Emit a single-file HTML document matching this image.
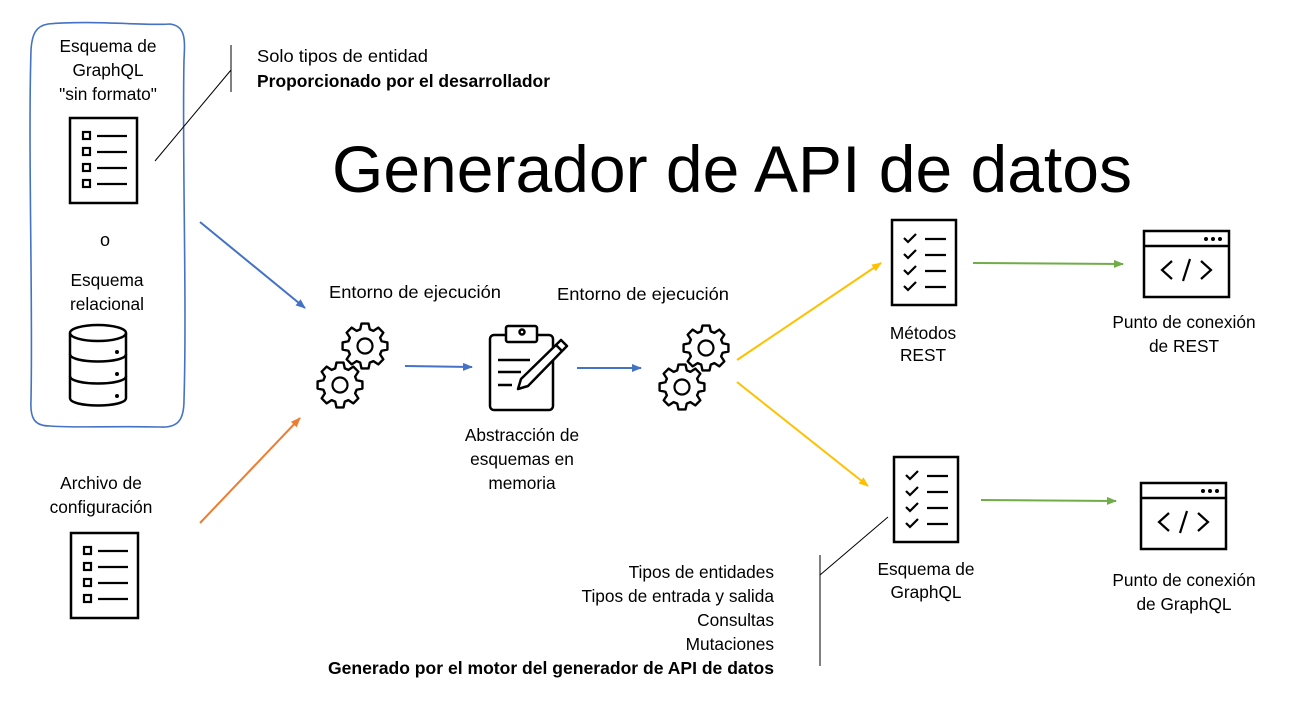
<!DOCTYPE html>
<html><head><meta charset="utf-8"><style>
html,body{margin:0;padding:0;background:#fff;}
svg{display:block;}
text{font-family:"Liberation Sans",sans-serif;font-size:17.3px;fill:#000;}
.b{font-weight:bold;}
</style></head><body>
<svg width="1291" height="717" viewBox="0 0 1291 717" xmlns="http://www.w3.org/2000/svg">
<defs>
<marker id="ab" markerWidth="10" markerHeight="8" refX="9" refY="4" orient="auto" markerUnits="userSpaceOnUse"><path d="M0,0 L10,4 L0,8z" fill="#4472c4"/></marker>
<marker id="ao" markerWidth="10" markerHeight="8" refX="9" refY="4" orient="auto" markerUnits="userSpaceOnUse"><path d="M0,0 L10,4 L0,8z" fill="#ed7d31"/></marker>
<marker id="ay" markerWidth="10" markerHeight="8" refX="9" refY="4" orient="auto" markerUnits="userSpaceOnUse"><path d="M0,0 L10,4 L0,8z" fill="#ffc000"/></marker>
<marker id="ag" markerWidth="10" markerHeight="8" refX="9" refY="4" orient="auto" markerUnits="userSpaceOnUse"><path d="M0,0 L10,4 L0,8z" fill="#70ad47"/></marker>
<g id="gear">
<polygon fill="#fff" stroke="#000" stroke-width="2.2" stroke-linejoin="round" transform="scale(1.08)" points="15.38,-4.41 20.75,-3.28 20.75,3.28 15.38,4.41 13.99,7.76 16.99,12.35 12.35,16.99 7.76,13.99 4.41,15.38 3.28,20.75 -3.28,20.75 -4.41,15.38 -7.76,13.99 -12.35,16.99 -16.99,12.35 -13.99,7.76 -15.38,4.41 -20.75,3.28 -20.75,-3.28 -15.38,-4.41 -13.99,-7.76 -16.99,-12.35 -12.35,-16.99 -7.76,-13.99 -4.41,-15.38 -3.28,-20.75 3.28,-20.75 4.41,-15.38 7.76,-13.99 12.35,-16.99 16.99,-12.35 13.99,-7.76"/>
<circle r="7.5" fill="none" stroke="#000" stroke-width="2.2"/>
</g>
<g id="list">
<rect x="0" y="0" width="67" height="85" fill="none" stroke="#000" stroke-width="2.5"/>
<g fill="none" stroke="#000" stroke-width="2.2">
<rect x="13" y="14" width="7" height="7"/><rect x="13" y="30" width="7" height="7"/><rect x="13" y="46" width="7" height="7"/><rect x="13" y="62" width="7" height="7"/>
<path d="M27 18H57M27 34H57M27 50H57M27 66H57"/>
</g>
</g>
<g id="check">
<rect x="0" y="0" width="64" height="85" fill="none" stroke="#000" stroke-width="2.5"/>
<g fill="none" stroke="#000" stroke-width="2.2">
<path d="M12 18l4 4 8-8M12 34l4 4 8-8M12 50l4 4 8-8M12 66l4 4 8-8"/>
<path d="M33 19H54M33 35H54M33 51H54M33 67H54"/>
</g>
</g>
<g id="web">
<rect x="0" y="0" width="85" height="66" fill="none" stroke="#000" stroke-width="2.5"/>
<path d="M0 15H85" stroke="#000" stroke-width="2.5"/>
<circle cx="62" cy="8" r="2" fill="#000"/><circle cx="69" cy="8" r="2" fill="#000"/><circle cx="76" cy="8" r="2" fill="#000"/>
<path d="M28 30l-10 9 10 9M57 30l10 9-10 9M46 28l-7 22" fill="none" stroke="#000" stroke-width="2.2"/>
</g>
</defs>

<path d="M48 24 C90 20,150 26,170 24 C186 26,185 40,184 60 C182 150,187 300,184 400 C184 420,178 428,160 427 C110 426,70 428,50 426 C34 426,30 418,31 400 C33 300,28 150,31 50 C32 34,36 26,48 24Z" fill="none" stroke="#4472c4" stroke-width="1.6"/>

<text x="108" y="52" text-anchor="middle">Esquema de</text>
<text x="108" y="76" text-anchor="middle">GraphQL</text>
<text x="108" y="100" text-anchor="middle">"sin formato"</text>
<use href="#list" x="70" y="118"/>
<text x="105" y="246" text-anchor="middle" style="font-size:18px">o</text>
<text x="107" y="286" text-anchor="middle">Esquema</text>
<text x="107" y="310" text-anchor="middle">relacional</text>

<g fill="none" stroke="#000" stroke-width="2.5">
<ellipse cx="98" cy="333" rx="28" ry="8"/>
<path d="M70 333V398C70 408,126 408,126 398V333"/>
<path d="M70 354C70 364,126 364,126 354M70 376C70 386,126 386,126 376"/>
</g>
<circle cx="117" cy="352" r="2" fill="#000"/><circle cx="117" cy="374" r="2" fill="#000"/><circle cx="117" cy="396" r="2" fill="#000"/>

<path d="M231 45V92M155 161L231 70" stroke="#000" stroke-width="1" fill="none"/>
<text x="257" y="62" textLength="171" lengthAdjust="spacingAndGlyphs">Solo tipos de entidad</text>
<text x="257" y="87" class="b" textLength="293" lengthAdjust="spacingAndGlyphs">Proporcionado por el desarrollador</text>

<text x="332" y="192" textLength="800" lengthAdjust="spacingAndGlyphs" style="font-size:66px">Generador de API de datos</text>

<text x="101" y="489" text-anchor="middle">Archivo de</text>
<text x="101" y="513" text-anchor="middle">configuración</text>
<use href="#list" x="71" y="533"/>

<text x="329" y="298" textLength="172" lengthAdjust="spacingAndGlyphs">Entorno de ejecución</text>
<text x="557" y="300" textLength="172" lengthAdjust="spacingAndGlyphs">Entorno de ejecución</text>

<use href="#gear" x="365" y="346"/>
<use href="#gear" x="340" y="385"/>
<use href="#gear" x="706" y="348"/>
<use href="#gear" x="682" y="387"/>

<g fill="none" stroke="#000" stroke-width="2.5" stroke-linejoin="round">
<rect x="490" y="335" width="63" height="75" rx="4"/>
<rect x="506" y="326" width="31" height="16" rx="2" fill="#fff"/>
<circle cx="522" cy="332" r="2.5"/>
<path d="M498 360H530M498 372H521M498 385H512"/>
<path d="M561 340L567 346L528 386L518 389L521 379Z" fill="#fff"/>
<path d="M556 345L562 351"/>
</g>
<text x="522" y="441" text-anchor="middle">Abstracción de</text>
<text x="522" y="465" text-anchor="middle">esquemas en</text>
<text x="522" y="489" text-anchor="middle">memoria</text>

<g fill="none" stroke-width="2">
<path d="M200 222L305 308" stroke="#4472c4" marker-end="url(#ab)"/>
<path d="M200 523L300 418" stroke="#ed7d31" marker-end="url(#ao)"/>
<path d="M405 366L472 367" stroke="#4472c4" marker-end="url(#ab)"/>
<path d="M577 368L641 368" stroke="#4472c4" marker-end="url(#ab)"/>
<path d="M737 360L881 263" stroke="#ffc000" marker-end="url(#ay)"/>
<path d="M737 382L868 486" stroke="#ffc000" marker-end="url(#ay)"/>
<path d="M973 263L1123 264" stroke="#70ad47" marker-end="url(#ag)"/>
<path d="M981 500L1116 501" stroke="#70ad47" marker-end="url(#ag)"/>
</g>

<use href="#check" x="892" y="220"/>
<text x="923" y="339" text-anchor="middle">Métodos</text>
<text x="923" y="361" text-anchor="middle">REST</text>
<use href="#web" x="1144" y="231"/>
<text x="1184" y="328" text-anchor="middle">Punto de conexión</text>
<text x="1184" y="352" text-anchor="middle">de REST</text>

<use href="#check" x="894" y="457"/>
<text x="926" y="575" text-anchor="middle">Esquema de</text>
<text x="926" y="598" text-anchor="middle">GraphQL</text>
<use href="#web" x="1141" y="483"/>
<text x="1184" y="586" text-anchor="middle">Punto de conexión</text>
<text x="1184" y="610" text-anchor="middle">de GraphQL</text>

<path d="M820 555V666M820 575L888 517" stroke="#000" stroke-width="1" fill="none"/>
<text x="774" y="578" text-anchor="end">Tipos de entidades</text>
<text x="774" y="602" text-anchor="end">Tipos de entrada y salida</text>
<text x="774" y="626" text-anchor="end">Consultas</text>
<text x="774" y="650" text-anchor="end">Mutaciones</text>
<text x="774" y="674" text-anchor="end" class="b" textLength="446" lengthAdjust="spacingAndGlyphs">Generado por el motor del generador de API de datos</text>
</svg>
</body></html>
